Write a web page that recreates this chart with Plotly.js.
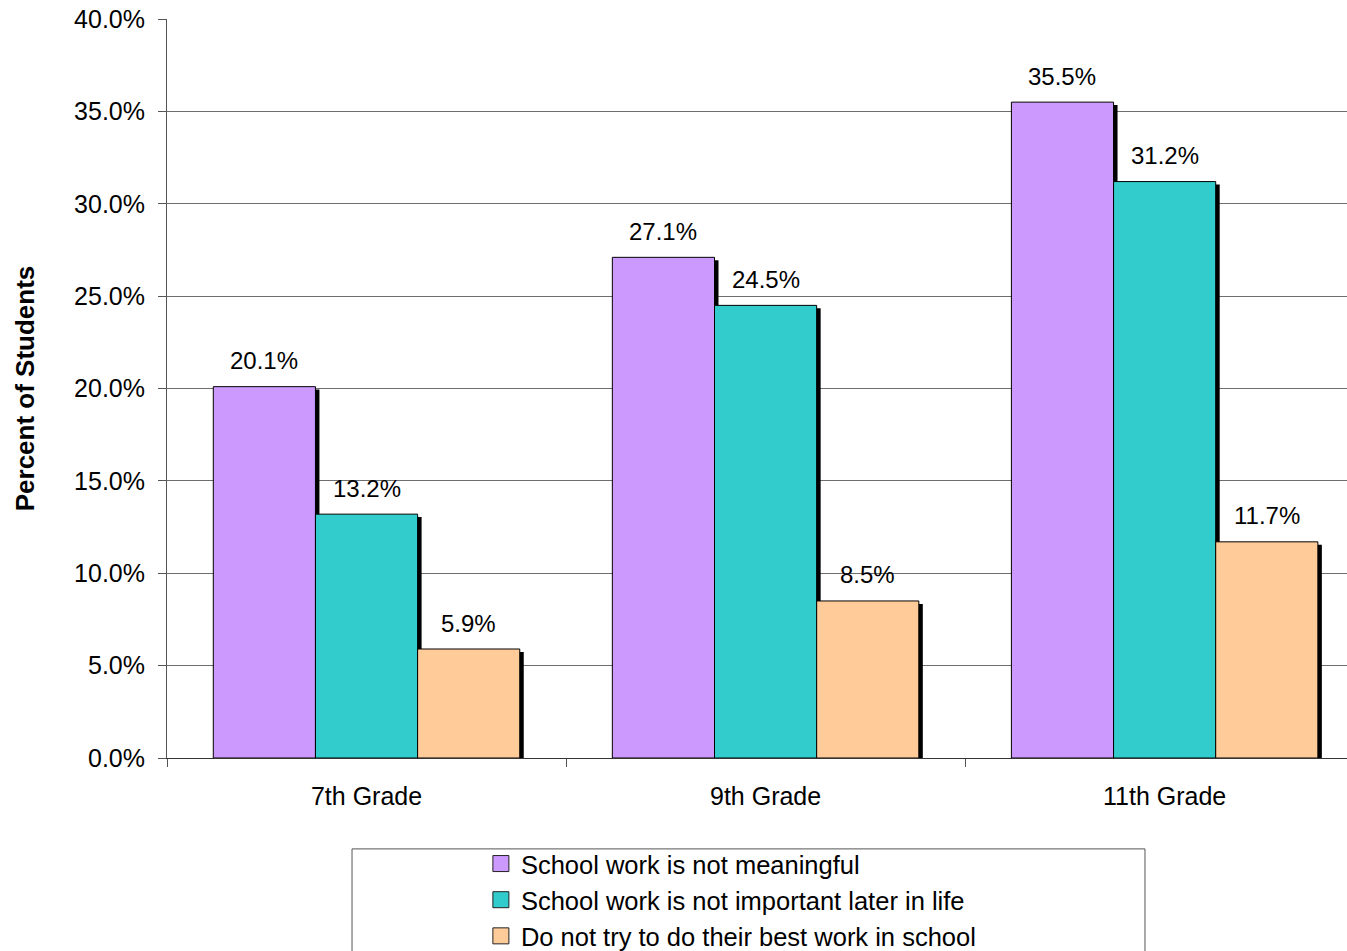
<!DOCTYPE html>
<html>
<head>
<meta charset="utf-8">
<script src="https://cdn.plot.ly/plotly-3.0.1.min.js"></script>
<style>html,body{margin:0;padding:0;background:#fff;}#chart{width:1347px;height:951px;}</style>
</head>
<body>
<div id="chart"></div>
<script>
var categories = ["7th Grade", "9th Grade", "11th Grade"];
var seriesNames = ["School work is not meaningful", "School work is not important later in life", "Do not try to do their best work in school"];
var notMeaningful = [0.201, 0.271, 0.355];
var notImportant = [0.132, 0.245, 0.312];
var notBestWork = [0.059, 0.085, 0.117];
var seriesValues = [notMeaningful, notImportant, notBestWork];
var seriesColors = ["#CC99FF", "#33CCCC", "#FFCC99"];
var yTickVals = [0, 0.05, 0.10, 0.15, 0.20, 0.25, 0.30, 0.35, 0.40];

var FONT = "Liberation Sans, Arial, sans-serif";
var FS = 25;
var BW = 0.256;               // bar width in category units
var SHX = 0.010;              // shadow x shift (~4px)
var SHY = 0.0016;             // shadow y drop (~3px)

var traces = [];
// shadows first (behind)
seriesValues.forEach(function(vals, i){
  traces.push({
    type: "bar", x: categories, y: vals, base: -SHY,
    width: BW, offset: (i - 1.5) * BW + SHX,
    marker: {color: "#000000", line: {width: 0}},
    showlegend: false, hoverinfo: "skip", cliponaxis: true
  });
});
seriesValues.forEach(function(vals, i){
  traces.push({
    type: "bar", x: categories, y: vals, name: seriesNames[i],
    width: BW, offset: (i - 1.5) * BW,
    marker: {color: seriesColors[i], line: {color: "#000000", width: 1}},
    showlegend: false
  });
});
// legend entries
seriesValues.forEach(function(vals, i){
  traces.push({
    type: "scatter", mode: "markers", x: [null], y: [null], name: seriesNames[i],
    marker: {symbol: "square", size: 16, color: seriesColors[i], line: {color: "#222", width: 1}},
    showlegend: true, hoverinfo: "skip"
  });
});

var annotations = [];
seriesValues.forEach(function(vals, i){
  vals.forEach(function(v, j){
    annotations.push({
      x: j + (i - 1) * BW, y: v, xref: "x", yref: "y",
      text: (v * 100).toFixed(1) + "%", showarrow: false,
      yanchor: "middle", yshift: 26,
      font: {family: FONT, size: 24, color: "#000"}
    });
  });
});

var layout = {
  width: 1347, height: 951,
  margin: {l: 167, r: 0, t: 19, b: 193, autoexpand: false},
  paper_bgcolor: "#ffffff", plot_bgcolor: "#ffffff",
  barmode: "overlay",
  font: {family: FONT, size: FS, color: "#000"},
  xaxis: {
    type: "category", range: [-0.5, 2.457], tickson: "boundaries",
    ticks: "outside", ticklen: 8, tickcolor: "#555", tickwidth: 1,
    showline: true, linecolor: "#333", linewidth: 1,
    showgrid: false, zeroline: false,
    tickfont: {family: FONT, size: FS, color: "#000"},
    ticklabelstandoff: 16
  },
  yaxis: {
    range: [0, 0.4], tickvals: yTickVals, tickformat: ".1%",
    ticks: "outside", ticklen: 8, tickcolor: "#555", tickwidth: 1,
    showline: true, linecolor: "#555", linewidth: 1,
    showgrid: true, gridcolor: "#6e6e6e", gridwidth: 1, zeroline: false,
    tickfont: {family: FONT, size: FS, color: "#000"},
    ticklabelstandoff: 8,
    title: {text: "<b>Percent of Students</b>", font: {family: FONT, size: 26, color: "#000"}, standoff: 32}
  },
  showlegend: true,
  legend: {
    x: 0.266, xanchor: "left", y: -0.1116, yanchor: "top",
    bgcolor: "rgba(0,0,0,0)", borderwidth: 0,
    font: {family: FONT, size: 25.5, color: "#000"},
    itemclick: false, itemdoubleclick: false, tracegroupgap: 0
  },
  shapes: [{
    type: "rect", xref: "paper", yref: "paper",
    x0: 0.1568, x1: 0.8288, y0: -0.123, y1: -0.4,
    line: {color: "#555", width: 1}, fillcolor: "rgba(0,0,0,0)", layer: "below"
  }],
  annotations: annotations
};

Plotly.newPlot("chart", traces, layout, {displayModeBar: false, staticPlot: true});
</script>
</body>
</html>
